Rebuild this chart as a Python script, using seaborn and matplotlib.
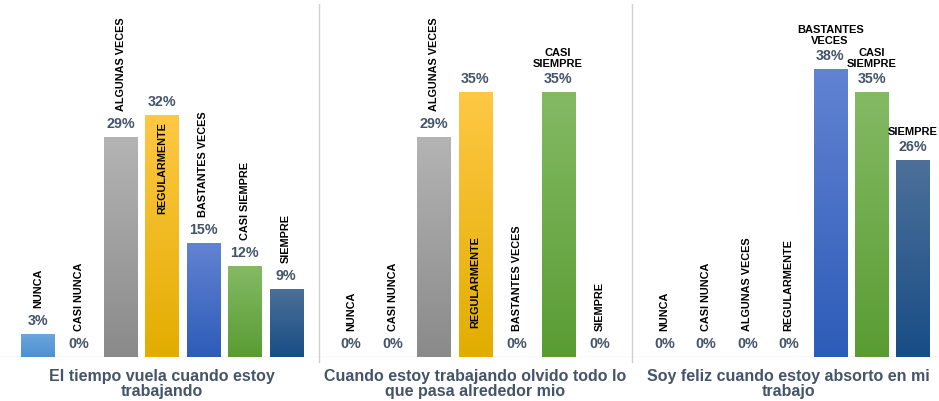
import numpy as np
import pandas as pd
import matplotlib
matplotlib.use("Agg")
import matplotlib.pyplot as plt
import seaborn as sns
from matplotlib.colors import LinearSegmentedColormap

# -------------------------------
# Data (percentages)
# -------------------------------
categorias = ["NUNCA", "CASI NUNCA", "ALGUNAS VECES", "REGULARMENTE",
              "BASTANTES VECES", "CASI SIEMPRE", "SIEMPRE"]
preguntas = ["El tiempo vuela cuando estoy\ntrabajando",
             "Cuando estoy trabajando olvido todo lo\nque pasa alrededor mio",
             "Soy feliz cuando estoy absorto en mi\ntrabajo"]
tiempo_vuela = [3, 0, 29, 32, 15, 12, 9]
olvido_todo = [0, 0, 29, 35, 0, 35, 0]
soy_feliz = [0, 0, 0, 0, 38, 35, 26]

# -------------------------------
# Style
# -------------------------------
colores = {  # (top, bottom) of the gradient
    "NUNCA": ("#6AA6DE", "#4F90D0"),
    "CASI NUNCA": ("#F08A45", "#D86E25"),
    "ALGUNAS VECES": ("#B4B4B4", "#8A8A8A"),
    "REGULARMENTE": ("#FFC845", "#E2AD00"),
    "BASTANTES VECES": ("#6283D2", "#2D5CB8"),
    "CASI SIEMPRE": ("#84BA64", "#5A9C33"),
    "SIEMPRE": ("#4C7099", "#184D85"),
}
# how the category name is placed for a given (question, category)
modo_etiqueta = {(0, 3): "inside_top", (1, 3): "inside_bottom",
                 (1, 5): "horizontal", (2, 4): "horizontal",
                 (2, 5): "horizontal", (2, 6): "horizontal"}
GROUP_STEP = 7.57
TXT = "#44546A"

sns.set_style("white")
plt.rcParams["font.family"] = ["Liberation Sans", "DejaVu Sans"]

# -------------------------------
# Long table
# -------------------------------
rows = []
for g, vals in enumerate([tiempo_vuela, olvido_todo, soy_feliz]):
    for i, (cat, v) in enumerate(zip(categorias, vals)):
        rows.append({"grupo": g, "idx": i, "categoria": cat,
                     "pos": g * GROUP_STEP + i, "valor": v})
df = pd.DataFrame(rows)

fig = plt.figure(figsize=(9.39, 4.02), dpi=100)
ax = fig.add_axes([0, 44 / 402, 1, 353 / 402])

palette = {c: colores[c][1] for c in categorias}
sns.barplot(data=df, x="pos", y="valor", hue="categoria", palette=palette,
            native_scale=True, dodge=False, width=0.8, saturation=1,
            errorbar=None, legend=False, ax=ax)

ax.set_xlim(-0.913, 21.77)
ax.set_ylim(0, 46.6)

# gradient fill clipped to each bar
grad = np.linspace(0, 1, 256).reshape(-1, 1)
for p in ax.patches:
    h = p.get_height()
    if h <= 0:
        continue
    xc = p.get_x() + p.get_width() / 2
    cat = df.loc[(df["pos"] - xc).abs().idxmin(), "categoria"]
    top, bot = colores[cat]
    cmap = LinearSegmentedColormap.from_list("g", [bot, top])
    p.set_edgecolor("none")
    im = ax.imshow(grad, cmap=cmap, origin="lower", aspect="auto",
                   extent=[p.get_x(), p.get_x() + p.get_width(), 0, h],
                   zorder=p.get_zorder() + 0.1)
    im.set_clip_path(p)

ax.set_xlim(-0.913, 21.77)
ax.set_ylim(0, 46.6)

# -------------------------------
# Labels
# -------------------------------
for _, r in df.iterrows():
    x, v = r["pos"], r["valor"]
    ax.annotate(f"{v}%", (x, v), xytext=(0, 10), textcoords="offset points",
                ha="center", va="center", fontsize=10.3, fontweight="bold",
                color=TXT)
    modo = modo_etiqueta.get((r["grupo"], r["idx"]), "above")
    kw = dict(textcoords="offset points", ha="center", fontsize=7.8,
              fontweight="bold", color="black")
    if modo == "above":
        ax.annotate(r["categoria"], (x, v), xytext=(0, 19.5), va="bottom",
                    rotation=90, **kw)
    elif modo == "inside_top":
        ax.annotate(r["categoria"], (x, v), xytext=(0, -4.5), va="top",
                    rotation=90, **kw)
    elif modo == "inside_bottom":
        ax.annotate(r["categoria"], (x, 0), xytext=(0, 21.5), va="bottom",
                    rotation=90, **kw)
    else:
        kw["fontsize"] = 8
        ax.annotate(r["categoria"].replace(" ", "\n"), (x, v), xytext=(0, 17.5),
                    va="bottom", linespacing=1.1, **kw)

for g, q in enumerate(preguntas):
    ax.annotate(q, (g * GROUP_STEP + 3, 0), xytext=(0, -18.5),
                textcoords="offset points", ha="center", va="center",
                fontsize=11.5, fontweight="bold", color=TXT, linespacing=1.0,
                annotation_clip=False)

# axis line and group separators
ax.axhline(0, color="#D6DCE5", lw=1, zorder=0.5)
for g in (1, 2):
    ax.axvline(g * GROUP_STEP - 0.5 - (GROUP_STEP - 7) / 2, ymin=-0.015, ymax=1,
               color="#D0D0D0", lw=1, clip_on=False)

ax.axis("off")
fig.savefig("out.png", dpi=100)
